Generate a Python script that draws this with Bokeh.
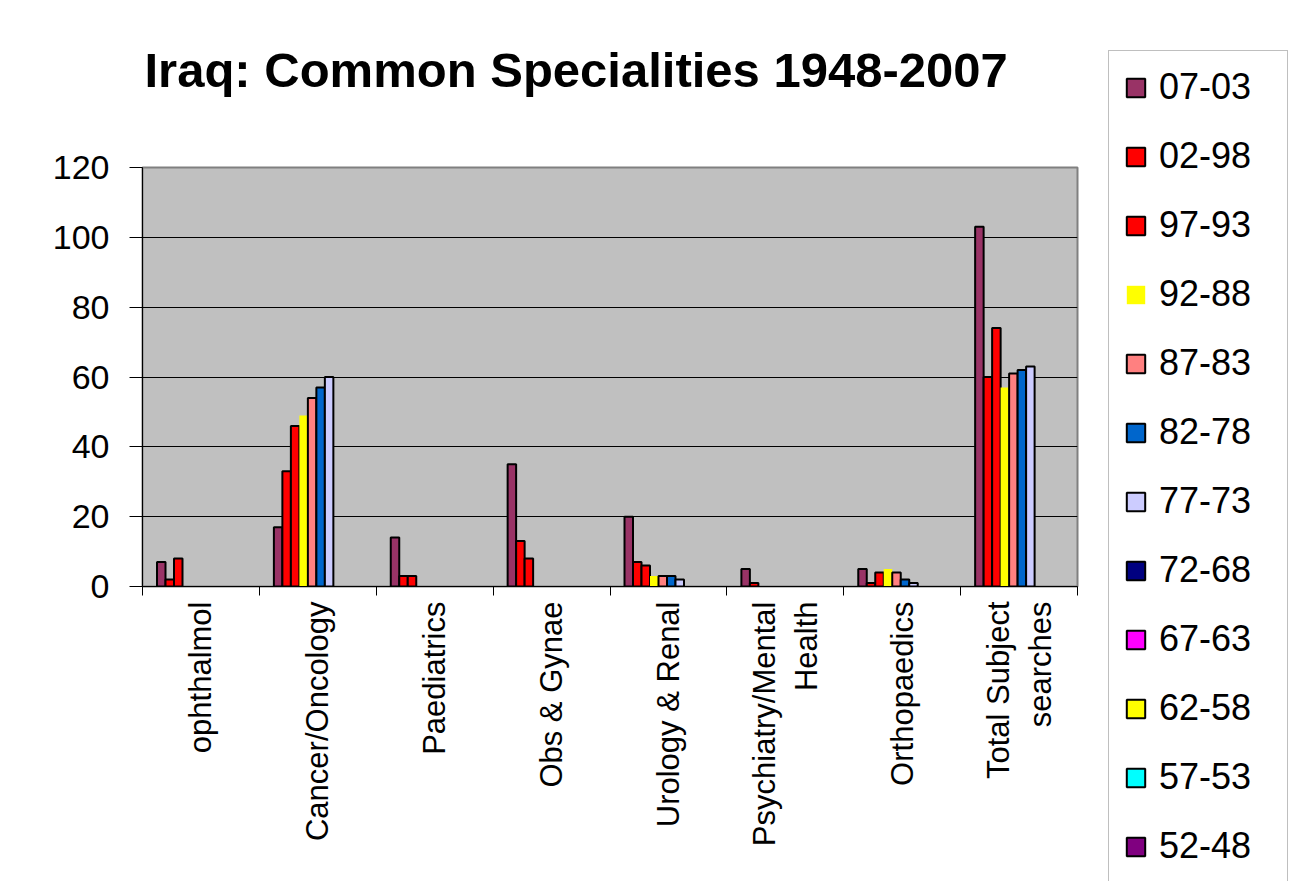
import math
from bokeh.plotting import figure
from bokeh.layouts import row
from bokeh.models import (ColumnDataSource, Range1d, LinearAxis, Title,
                          FixedTicker, Legend, LegendItem)
from bokeh.transform import dodge
from bokeh.embed import file_html
from bokeh.resources import INLINE

# ---------------- data ----------------
categories = ["ophthalmol", "Cancer/Oncology", "Paediatrics", "Obs & Gynae",
              "Urology & Renal", "Psychiatry/Mental\nHealth", "Orthopaedics",
              "Total Subject\nsearches"]

series_names = ["07-03", "02-98", "97-93", "92-88", "87-83", "82-78",
                "77-73", "72-68", "67-63", "62-58", "57-53", "52-48"]

s_07_03 = [7, 17, 14, 35, 20, 5, 5, 103]
s_02_98 = [2, 33, 3, 13, 7, 1, 1, 60]
s_97_93 = [8, 46, 3, 8, 6, 0, 4, 74]
s_92_88 = [0, 49, 0, 0, 3, 0, 5, 57]
s_87_83 = [0, 54, 0, 0, 3, 0, 4, 61]
s_82_78 = [0, 57, 0, 0, 3, 0, 2, 62]
s_77_73 = [0, 60, 0, 0, 2, 0, 1, 63]
s_72_68 = [0, 0, 0, 0, 0, 0, 0, 0]
s_67_63 = [0, 0, 0, 0, 0, 0, 0, 0]
s_62_58 = [0, 0, 0, 0, 0, 0, 0, 0]
s_57_53 = [0, 0, 0, 0, 0, 0, 0, 0]
s_52_48 = [0, 0, 0, 0, 0, 0, 0, 0]

y_ticks = [0, 20, 40, 60, 80, 100, 120]

series_values = [s_07_03, s_02_98, s_97_93, s_92_88, s_87_83, s_82_78,
                 s_77_73, s_72_68, s_67_63, s_62_58, s_57_53, s_52_48]

# ---------------- styles ----------------
colors = ["#993366", "#FF0000", "#FF0000", "#FFFF00", "#FF8080", "#0066CC",
          "#CCCCFF", "#000080", "#FF00FF", "#FFFF00", "#00FFFF", "#800080"]
outlines = ["black", "black", "black", None, "black", "black",
            "black", "black", "black", "black", "black", "black"]

FONT = "Liberation Sans"

ncat = len(categories)
centers = [j + 0.5 for j in range(ncat)]      # category slots on a 0..ncat scale

data = {"xc": centers}
keys = []
for i, vals in enumerate(series_values):
    k = "s%d" % i
    keys.append(k)
    # blank (zero) cells draw nothing, as in the original
    data[k] = [v if v != 0 else float("nan") for v in vals]
src = ColumnDataSource(data)

# ---------------- main chart ----------------
fig = figure(x_range=Range1d(0, ncat), y_range=Range1d(0, 120),
             width=1107, height=881,
             output_backend="svg", toolbar_location=None,
             x_axis_location=None,
             min_border_left=142, min_border_right=30,
             min_border_top=167, min_border_bottom=295,
             background_fill_color="#C0C0C0", border_fill_color="white",
             outline_line_color="#808080", outline_line_width=2)

# invisible spacer between the frame and the title, to lift the title
fig.add_layout(Title(text=" ", text_font_size="1px", standoff=68), "above")

fig.title.text = "Iraq: Common Specialities 1948-2007"
fig.title.text_font = FONT
fig.title.text_font_size = "49px"
fig.title.text_font_style = "bold"
fig.title.text_color = "black"
fig.title.align = "left"
fig.title.offset = 2
fig.title.standoff = 0

n = len(series_names)
w = 0.0727
shift = 0.024


def add_bars(target, visible=True):
    out = []
    for i, name in enumerate(series_names):
        off = (i - (n - 2) / 2) * w + shift
        r = target.vbar(x=dodge("xc", off), top=keys[i], width=w,
                        source=src, fill_color=colors[i], line_color=outlines[i],
                        line_width=2, visible=visible)
        out.append(r)
    return out


add_bars(fig)

fig.yaxis.ticker = FixedTicker(ticks=y_ticks)
fig.yaxis.major_label_text_font = FONT
fig.yaxis.major_label_text_font_size = "34px"
fig.yaxis.major_label_text_color = "black"
fig.yaxis.axis_line_color = "black"
fig.yaxis.major_tick_line_color = "black"
fig.yaxis.major_tick_out = 13
fig.yaxis.major_tick_in = 0
fig.yaxis.minor_tick_line_color = None
fig.yaxis.major_label_standoff = 20

fig.ygrid.ticker = FixedTicker(ticks=y_ticks)
fig.ygrid.grid_line_color = "black"
fig.ygrid.grid_line_width = 1
fig.xgrid.grid_line_color = None

# boundary ticks between categories
edge_axis = LinearAxis(ticker=FixedTicker(ticks=list(range(ncat + 1))),
                       major_tick_out=9, major_tick_in=0,
                       minor_tick_line_color=None,
                       axis_line_color="black", major_tick_line_color="black",
                       major_label_text_font_size="1px", major_label_text_alpha=0,
                       major_label_standoff=0)
fig.add_layout(edge_axis, "below")

# category labels at slot centres
cat_axis = LinearAxis(ticker=FixedTicker(ticks=centers),
                      major_label_overrides={c: lab for c, lab in zip(centers, categories)},
                      major_tick_line_color=None, axis_line_color=None,
                      minor_tick_line_color=None,
                      major_tick_out=0, major_tick_in=0,
                      major_label_orientation=math.pi / 2,
                      major_label_text_font=FONT,
                      major_label_text_font_size="31px",
                      major_label_text_color="black",
                      major_label_standoff=6)
fig.add_layout(cat_axis, "below")

# ---------------- legend panel ----------------
leg_fig = figure(x_range=Range1d(-10, -9), y_range=Range1d(-10, -9),
                 width=186, height=881,
                 output_backend="svg", toolbar_location=None,
                 x_axis_location=None, y_axis_location=None,
                 min_border_left=0, min_border_right=0,
                 min_border_top=167, min_border_bottom=295,
                 background_fill_color="white", border_fill_color="white",
                 outline_line_color=None)
leg_fig.grid.visible = False
leg_renderers = add_bars(leg_fig, visible=False)

legend = Legend(items=[LegendItem(label=nm, renderers=[r]) for nm, r in zip(series_names, leg_renderers)],
                location=(1, -297), orientation="vertical",
                padding=15, spacing=27, margin=0,
                glyph_width=23, glyph_height=23, label_standoff=12,
                label_width=113, label_height=42,
                label_text_font=FONT, label_text_font_size="36px",
                label_text_color="black",
                border_line_color="#808080", border_line_width=1.5,
                background_fill_color="white", background_fill_alpha=1)
leg_fig.add_layout(legend, "left")

p = row(fig, leg_fig)

open("out.html", "w").write(file_html(p, INLINE))
